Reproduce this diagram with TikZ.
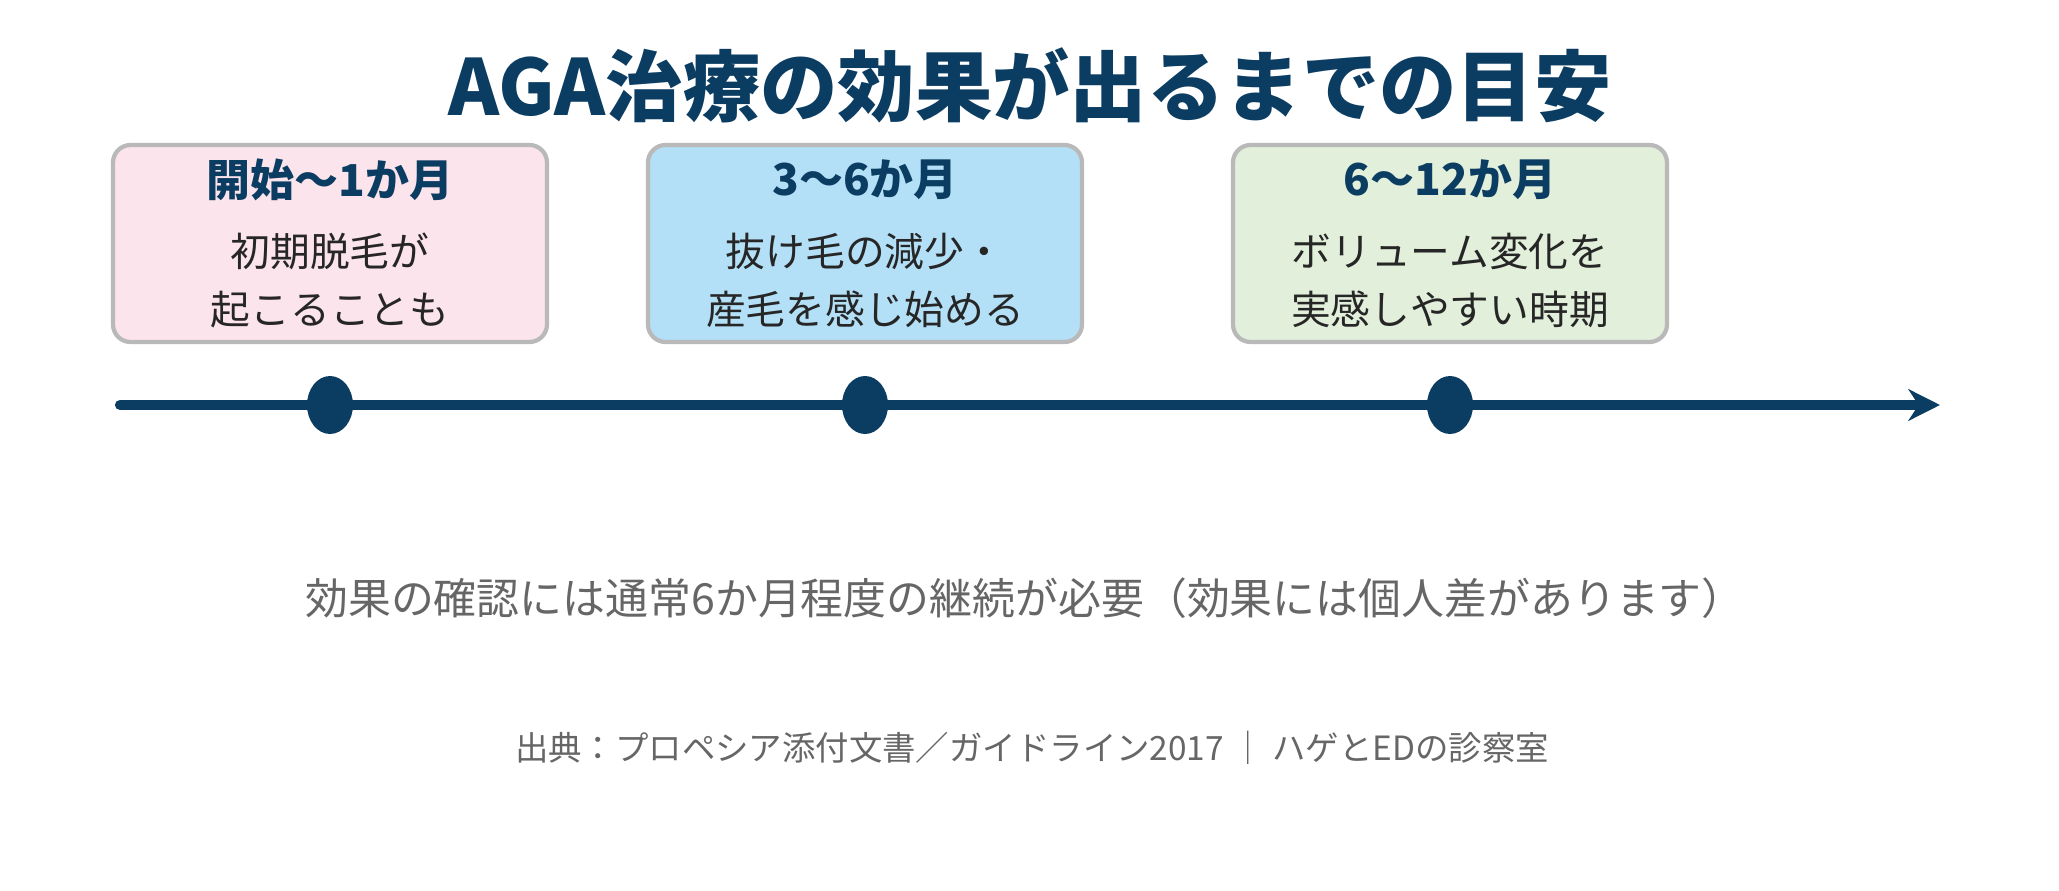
\documentclass[tikz,border=0pt]{standalone}
\usepackage{fontspec}
\setmainfont{Noto Sans CJK JP}
\usetikzlibrary{arrows.meta}
\definecolor{navy}{HTML}{0B3C61}
\definecolor{pinkb}{HTML}{FCE4EC}
\definecolor{blueb}{HTML}{B3E0F7}
\definecolor{greenb}{HTML}{E2EFDA}
\definecolor{txtg}{HTML}{666666}
\begin{document}
\begin{tikzpicture}[x=0.01cm,y=-0.01cm,
  box/.style={draw=gray!55,line width=1.2pt,rounded corners=5pt},
  btitle/.style={font=\fontsize{12.5}{14}\selectfont\bfseries,text=navy},
  bbody/.style={font=\fontsize{11.3}{16.5}\selectfont,text=black!85,align=center},
  dot/.style={fill=navy,draw=none,ellipse}]
\path[use as bounding box,fill=white] (0,0) rectangle (2059,891);
\node[font=\fontsize{22}{26}\selectfont\bfseries,text=navy] (title) at (1030,85) {AGA治療の効果が出るまでの目安};
\foreach \n/\x/\c/\t/\b in {a/113/pinkb/開始〜1か月/初期脱毛が\\起こることも, b/648/blueb/3〜6か月/抜け毛の減少・\\産毛を感じ始める, c/1233/greenb/6〜12か月/ボリューム変化を\\実感しやすい時期}{
  \filldraw[box,fill=\c] (\x,145) rectangle (\x+434,342);
  \node[btitle] (t\n) at (\x+217,180) {\t};
  \node[bbody] (b\n) at (\x+217,280) {\b};
}
\coordinate (s) at (120,405);
\coordinate (e) at (1940,405);
\draw[navy,line width=2.9pt,line cap=round,-{Stealth[length=9pt,width=9pt]}] (s) -- (e);
\foreach \n/\x in {1/330,2/865,3/1450}{
  \fill[navy] (\x,405) ellipse [x radius=23,y radius=29];
}
\node[font=\fontsize{12.2}{14}\selectfont,text=txtg] (cap) at (1025,598) {効果の確認には通常6か月程度の継続が必要（効果には個人差があります）};
\node[font=\fontsize{9.5}{12}\selectfont,text=txtg] (src) at (1032,748) {出典：プロペシア添付文書／ガイドライン2017 ｜ ハゲとEDの診察室};
\end{tikzpicture}
\end{document}
